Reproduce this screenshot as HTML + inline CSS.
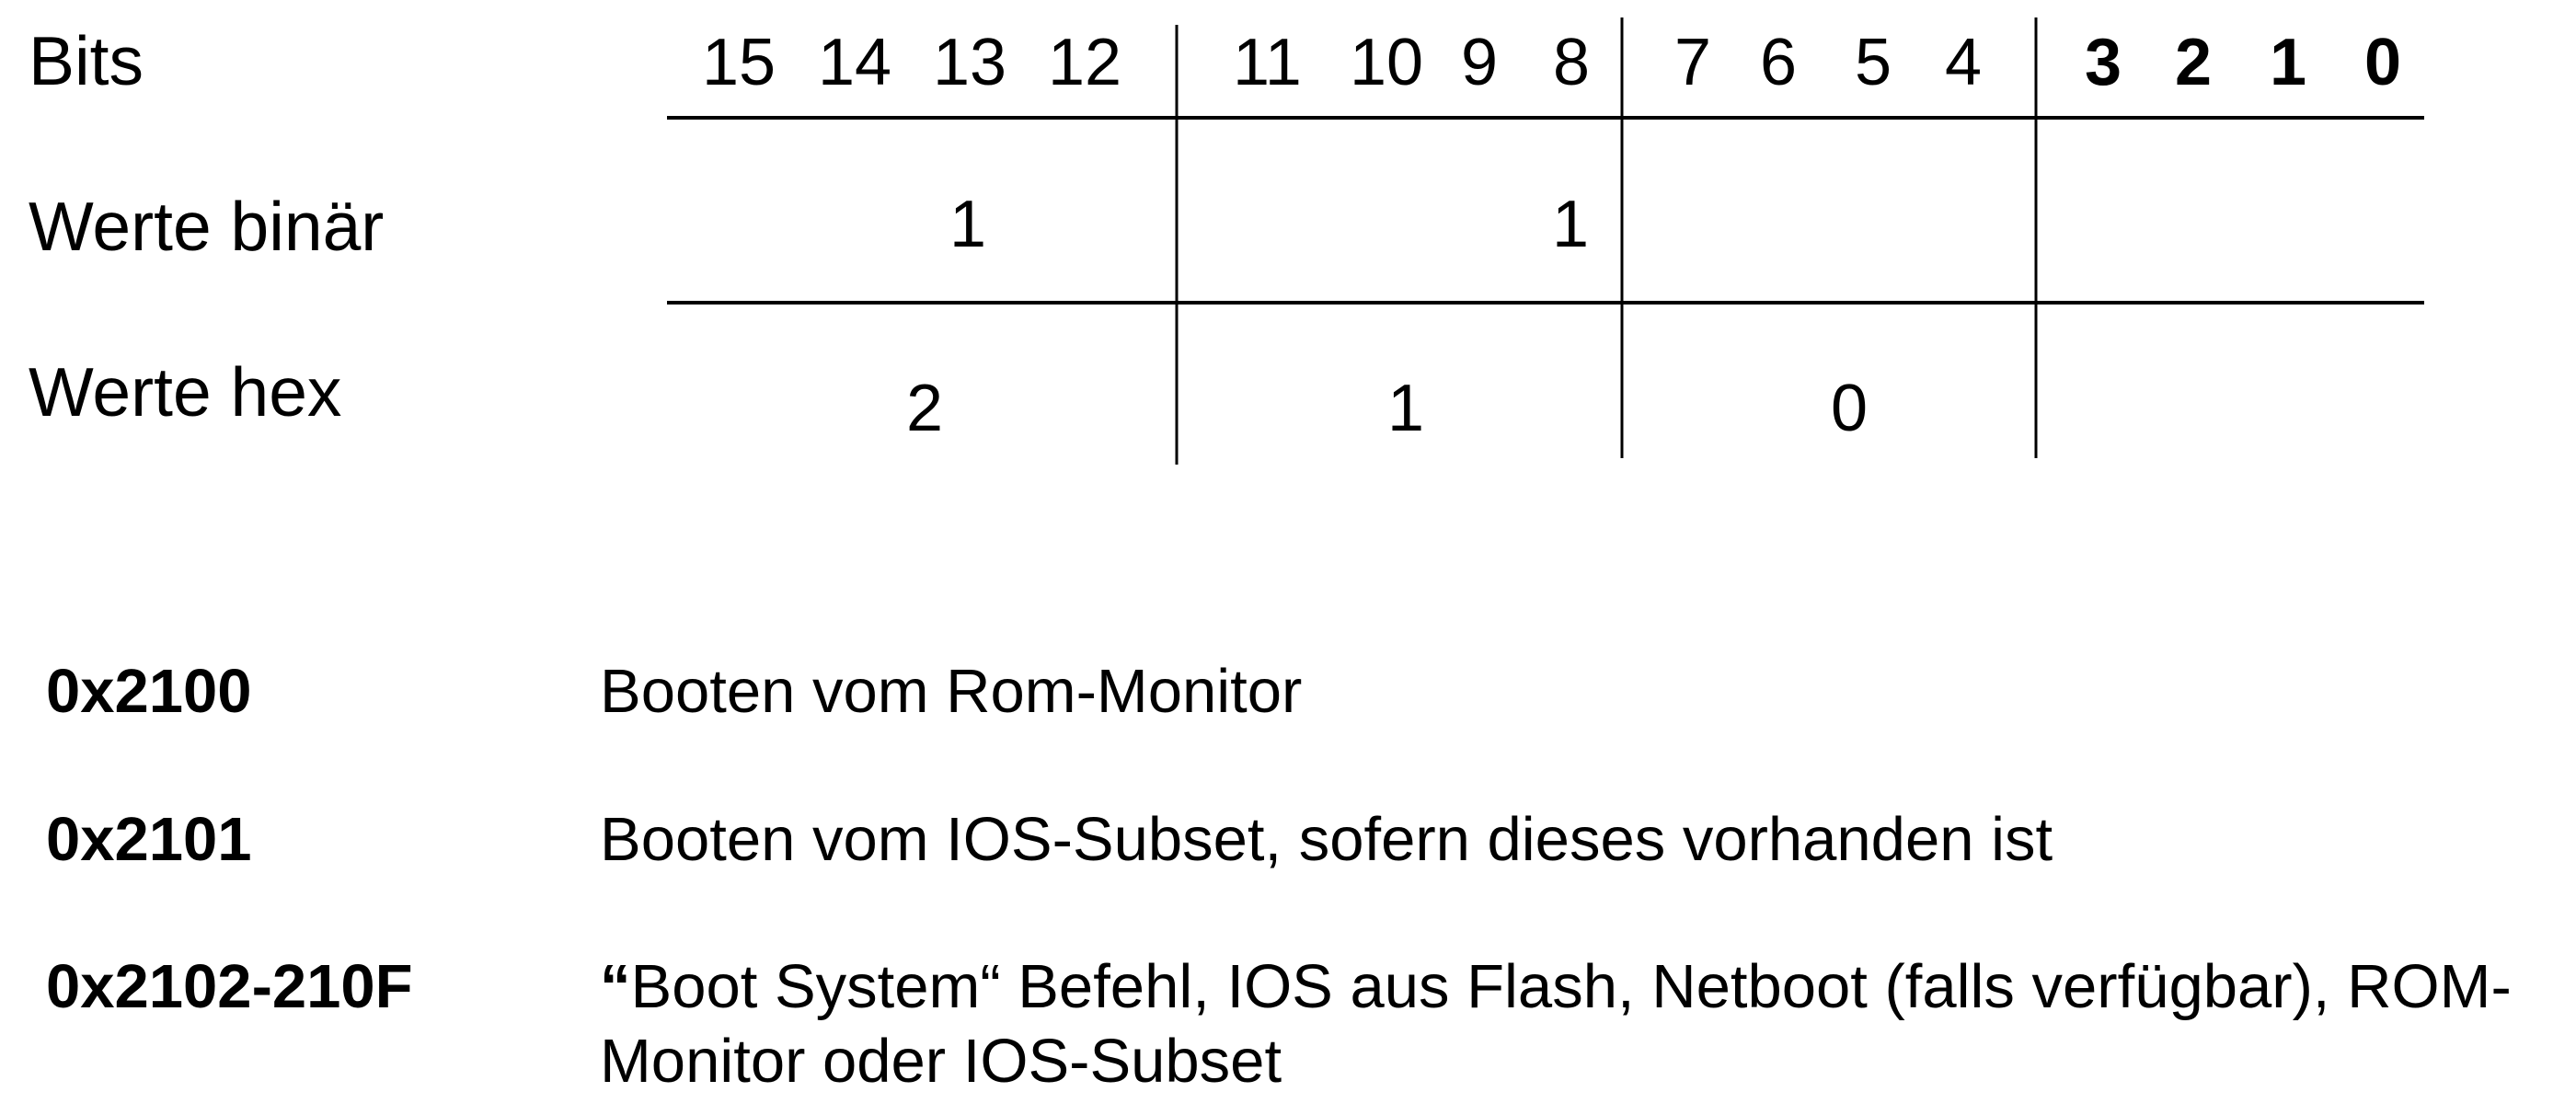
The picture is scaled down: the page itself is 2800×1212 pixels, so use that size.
<!DOCTYPE html>
<html><head><meta charset="utf-8"><style>
html,body{margin:0;padding:0;background:#fff;}
svg{display:block;}
text{font-family:"Liberation Sans",Arial,sans-serif;fill:#000;}
</style></head><body>
<svg width="2800" height="1212" viewBox="0 0 2800 1212" xmlns="http://www.w3.org/2000/svg">
<g stroke="#000" stroke-width="4">
<line x1="725" y1="128" x2="2635" y2="128"/>
<line x1="725" y1="329" x2="2635" y2="329"/>
<line x1="1279" y1="27" x2="1279" y2="505" stroke-width="3"/>
<line x1="1763" y1="19" x2="1763" y2="498" stroke-width="3"/>
<line x1="2213" y1="19" x2="2213" y2="498" stroke-width="3"/>
</g>
<g font-size="75">
<text x="31" y="92">Bits</text>
<text x="31" y="272">Werte binär</text>
<text x="31" y="452">Werte hex</text>
</g>
<g font-size="72">
<text x="763" y="92">15</text>
<text x="889" y="92">14</text>
<text x="1014" y="92">13</text>
<text x="1139" y="92">12</text>
<text x="1340" y="92">11</text>
<text x="1467" y="92">10</text>
<text x="1588" y="92">9</text>
<text x="1688" y="92">8</text>
<text x="1820" y="92">7</text>
<text x="1913" y="92">6</text>
<text x="2016" y="92">5</text>
<text x="2114" y="92">4</text>
<g font-weight="bold">
<text x="2266" y="92">3</text>
<text x="2364" y="92">2</text>
<text x="2467" y="92">1</text>
<text x="2570" y="92">0</text>
</g>
<text x="1032" y="268">1</text>
<text x="1687" y="268">1</text>
<text x="985" y="468">2</text>
<text x="1508" y="468">1</text>
<text x="1990" y="468">0</text>
</g>
<g font-size="67">
<text x="50" y="774" font-weight="bold">0x2100</text>
<text x="652" y="774">Booten vom Rom-Monitor</text>
<text x="50" y="935" font-weight="bold">0x2101</text>
<text x="652" y="935">Booten vom IOS-Subset, sofern dieses vorhanden ist</text>
<text x="50" y="1095" font-weight="bold">0x2102-210F</text>
<text x="652" y="1095"><tspan font-weight="bold">“</tspan>Boot System“ Befehl, IOS aus Flash, Netboot (falls verfügbar), ROM-</text>
<text x="652" y="1176">Monitor oder IOS-Subset</text>
</g>
</svg>
</body></html>
